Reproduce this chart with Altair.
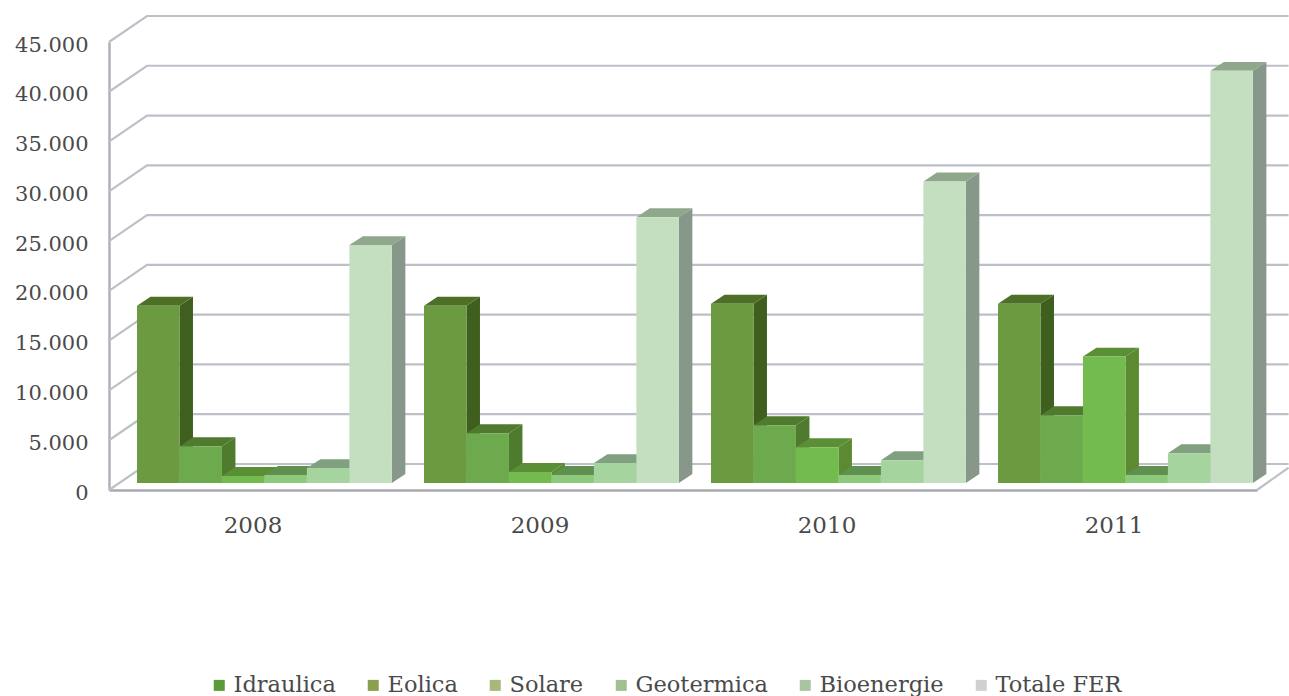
import json
import altair as alt
import pandas as pd

years = ["2008", "2009", "2010", "2011"]
series = ["Idraulica", "Eolica", "Solare", "Geotermica", "Bioenergie", "Totale FER"]
values = {
    "Idraulica": [17800, 17800, 18000, 18000],
    "Eolica": [3700, 5000, 5800, 6800],
    "Solare": [700, 1100, 3600, 12700],
    "Geotermica": [800, 800, 800, 800],
    "Bioenergie": [1500, 2000, 2300, 3000],
    "Totale FER": [23900, 26700, 30300, 41400],
}
y_ticks = [0, 5000, 10000, 15000, 20000, 25000, 30000, 35000, 40000, 45000]

front_colors = ["#6b9a40", "#6daa4d", "#74bb4f", "#8cc97b", "#a6d49f", "#c4dfc0"]
side_colors = ["#3f5f1e", "#4e7b2d", "#5b8a30", "#5f8a50", "#7c9a78", "#87988a"]
top_colors = ["#4d7026", "#507a2e", "#5a8f35", "#60904f", "#80a080", "#8fa88c"]
legend_colors = ["#5a9a3a", "#8a9f50", "#a8b878", "#a0c090", "#a8c4a0", "#d0d0d0"]

GRID = "#bcc0c8"
TEXT = "#4a4a4a"
FONT = "DejaVu Serif"

# Projection of the 3D box, in axis units: x counts year groups, y is the value scale
BAR_START = 0.0976
BAR_W = 0.148
BAR_DX = 0.047
BAR_DY = 900
FLOOR = 700
WALL_DX = 0.1324
WALL_DY = 2612
X_END = 4.11

fronts, sides, tops = [], [], []
for g, year in enumerate(years):
    for s, name in enumerate(series):
        v = values[name][g]
        x0 = g + BAR_START + s * BAR_W
        x1 = x0 + BAR_W
        t = FLOOR + v
        bar = f"{year}-{name}"
        fronts.append({"bar": bar, "x": x0, "x2": x1, "y": FLOOR, "y2": t, "fill": front_colors[s]})
        for x, lo, hi in [(x1, FLOOR, t), (x1 + BAR_DX, FLOOR + BAR_DY, t + BAR_DY)]:
            sides.append({"bar": bar, "x": x, "y": lo, "y2": hi, "fill": side_colors[s]})
        for x, lo, hi in [
            (x0, t, t),
            (x0 + BAR_DX, t, t + BAR_DY),
            (x1, t, t + BAR_DY),
            (x1 + BAR_DX, t + BAR_DY, t + BAR_DY),
        ]:
            tops.append({"bar": bar, "x": x, "y": lo, "y2": hi, "fill": top_colors[s]})

grid = []
for v in y_ticks:
    for x, y in [(0, v), (WALL_DX, v + WALL_DY), (X_END, v + WALL_DY)]:
        grid.append({"line": f"g{v}", "x": x, "y": y})
for x, y in [(4, 0), (X_END, 2250)]:
    grid.append({"line": "floor", "x": x, "y": y})

x_scale = alt.Scale(domain=[0, 4], nice=False, zero=False)
y_scale = alt.Scale(domain=[0, 45000], nice=False)

x_axis = alt.Axis(
    values=[0.5, 1.5, 2.5, 3.5],
    labelExpr=f"{json.dumps(years)}[floor(datum.value)]",
    title=None, grid=False, ticks=False,
    domainColor="#a8a8b0", domainWidth=2.5,
    labelFont=FONT, labelFontSize=23, labelColor=TEXT, labelPadding=24, labelAngle=0,
)
y_axis = alt.Axis(
    values=y_ticks,
    labelExpr="replace(format(datum.value, ','), ',', '.')",
    title=None, grid=False, ticks=False,
    domainColor="#b0b0b8", domainWidth=2.5,
    labelFont=FONT, labelFontSize=21, labelColor=TEXT, labelPadding=21, labelOffset=3,
)

X = alt.X("x:Q", scale=x_scale, axis=x_axis)
Y = alt.Y("y:Q", scale=y_scale, axis=y_axis)

legend_layer = (
    alt.Chart(pd.DataFrame({"series": series, "x": 0.2, "y": 1000}))
    .mark_square(size=0, opacity=1)
    .encode(
        x=X, y=Y,
        color=alt.Color(
            "series:N",
            scale=alt.Scale(domain=series, range=legend_colors),
            legend=alt.Legend(
                title=None, orient="none", legendX=99, legendY=632,
                direction="horizontal", columns=6, columnPadding=26,
                symbolType="square", symbolSize=121, symbolStrokeWidth=0,
                labelOffset=3, labelFont=FONT, labelFontSize=22.5, labelColor=TEXT,
                labelLimit=300,
            ),
        ),
    )
)

grid_layer = (
    alt.Chart(pd.DataFrame(grid))
    .mark_line(color=GRID, strokeWidth=2.2)
    .encode(x=X, y=Y, detail="line:N")
)

side_layer = (
    alt.Chart(pd.DataFrame(sides))
    .mark_area()
    .encode(x=X, y=Y, y2="y2:Q", detail="bar:N", fill=alt.Fill("fill:N", scale=None))
)
top_layer = (
    alt.Chart(pd.DataFrame(tops))
    .mark_area()
    .encode(x=X, y=Y, y2="y2:Q", detail="bar:N", fill=alt.Fill("fill:N", scale=None))
)
front_layer = (
    alt.Chart(pd.DataFrame(fronts))
    .mark_rect()
    .encode(x=X, x2="x2:Q", y=Y, y2="y2:Q", fill=alt.Fill("fill:N", scale=None))
)

chart = (
    alt.layer(legend_layer, grid_layer, side_layer, top_layer, front_layer)
    .properties(
        width=1148, height=448,
        padding={"left": 109, "top": 42, "right": 32, "bottom": 206},
        autosize=alt.AutoSizeParams(type="none"),
        background="white",
    )
    .configure_view(stroke=None)
)

chart.save("out.html", embed_options={"renderer": "svg", "actions": False})
